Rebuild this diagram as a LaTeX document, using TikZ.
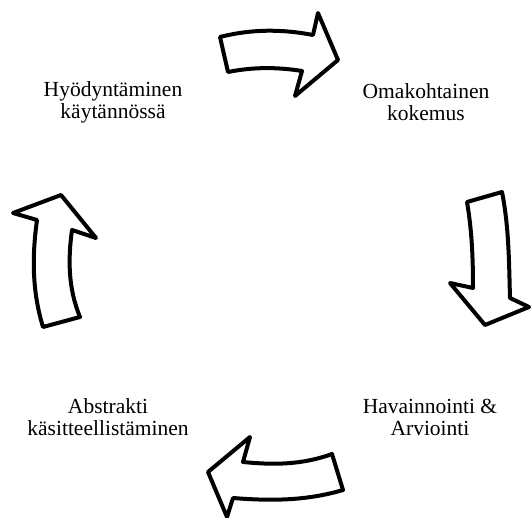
\documentclass[tikz,border=0pt]{standalone}
\usepackage{fontspec}
\setmainfont{Liberation Serif}
\usetikzlibrary{positioning}
\tikzset{
phase/.style={align=center, font=\fontsize{21.5}{22}\selectfont},
bigarrow/.style={draw=black, fill=white, line width=4pt, line join=round}
}

\begin{document}
\begin{tikzpicture}[x=1pt,y=-1pt]
\useasboundingbox (0,0) rectangle (531,518);

\node[phase] (use) at (113,102) {Hyödyntäminen\\käytännössä};
\node[phase] (own) at (426,102) {Omakohtainen\\kokemus};
\node[phase] (obs) at (430,417) {Havainnointi \&\\Arviointi};
\node[phase] (abs) at (108,417) {Abstrakti\\käsitteellistäminen};

\draw[bigarrow] (220,37) .. controls (251,29) and (282,29) .. (313,35) -- (318,13) -- (338,60) -- (295,96) -- (302,71)
  .. controls (277,67) and (253,67) .. (228,72) -- cycle;
\draw[bigarrow] (502,192) .. controls (509,227) and (509,263) .. (510,298) -- (529,307) -- (485,325) -- (450,283) -- (473,288)
  .. controls (473,259) and (472,231) .. (467,202) -- cycle;
\draw[bigarrow] (343,490) .. controls (306,501) and (270,501) .. (233,498) -- (227,517) -- (208,472) -- (250,437) -- (243,462)
  .. controls (273,465) and (302,465) .. (332,454) -- cycle;
\draw[bigarrow] (43,327) .. controls (32,291) and (32,256) .. (37,220) -- (13,213) -- (61,195) -- (96,238) -- (72,230)
  .. controls (68,259) and (68,288) .. (80,317) -- cycle;
\end{tikzpicture}
\end{document}
